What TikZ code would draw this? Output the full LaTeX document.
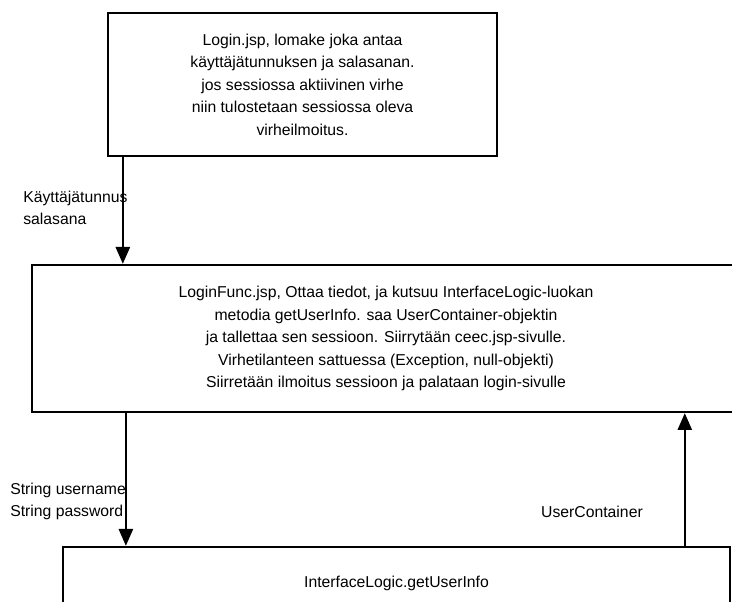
\documentclass[tikz,border=0pt]{standalone}
\usepackage{fontspec}
\setmainfont{Liberation Sans}
\usetikzlibrary{arrows.meta,fit}
\begin{document}
\begin{tikzpicture}[x=0.025cm,y=-0.025cm,
  box/.style={draw,line width=1.6pt,align=center,inner sep=0pt,font=\fontsize{11.2}{16}\selectfont},
  flow/.style={line width=1.7pt,-{Triangle[length=12pt,width=10pt]}},
  lbl/.style={anchor=west,align=left,inner sep=0pt,font=\fontsize{11.2}{15.5}\selectfont}]
\useasboundingbox (0,0) rectangle (732,602);
\clip (0,0) rectangle (732,602);
% the three pages / steps
\node[box,minimum width=9.725cm,minimum height=3.575cm] (login) at (302.5,84.5)
  {Login.jsp, lomake joka antaa\\ käyttäjätunnuksen ja salasanan.\\ jos sessiossa aktiivinen virhe\\ niin tulostetaan sessiossa oleva\\ virheilmoitus.};
\node[box,fit={(32,265) (790,412)}] (func) {};
\node[box,draw=none] (functext) at (386,338.5)
  {LoginFunc.jsp, Ottaa tiedot, ja kutsuu InterfaceLogic-luokan\\ metodia getUserInfo. saa UserContainer-objektin\\ ja tallettaa sen sessioon. Siirrytään ceec.jsp-sivulle.\\ Virhetilanteen sattuessa (Exception, null-objekti)\\ Siirretään ilmoitus sessioon ja palataan login-sivulle};
\node[box,minimum width=16.675cm,minimum height=1.8cm] (logic) at (396.5,583)
  {InterfaceLogic.getUserInfo};
% connectors
\draw[flow] (login.south west) ++(16,0) coordinate (a1) -- (a1 |- func.north);
\draw[flow] (func.south west) ++(95,0) coordinate (a2) -- (a2 |- logic.north);
\draw[flow] (logic.north west) ++(623,0) coordinate (a3) -- (a3 |- func.south);
\node[lbl] (tunnus) at (23,208) {Käyttäjätunnus\\ salasana};
\node[lbl] (param) at (10,501.5) {String username\\ String password};
\node[lbl,anchor=center] (paluu) at (592,512) {UserContainer};
\end{tikzpicture}
\end{document}
